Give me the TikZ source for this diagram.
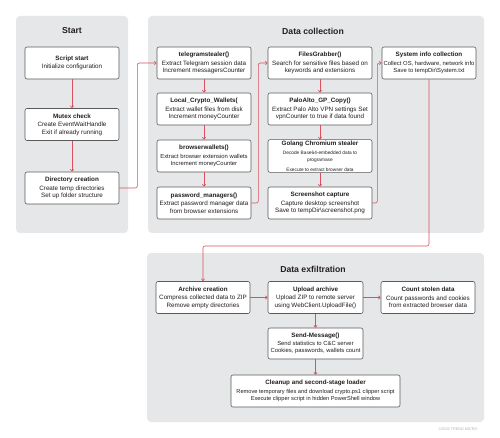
\documentclass[tikz,border=0pt]{standalone}
\usepackage{fontspec}
\setmainfont{Liberation Sans}
\usetikzlibrary{arrows.meta}
\definecolor{panelgray}{HTML}{E6E7E8}
\definecolor{boxborder}{HTML}{5A5A5A}
\definecolor{arrred}{HTML}{D9505E}
\definecolor{txt}{HTML}{231F20}
\newcommand{\bt}[1]{{\bfseries\fontsize{6.3}{7.5}\selectfont #1}}
\newcommand{\smf}{\fontsize{5.9}{7}\selectfont}
\begin{document}
\begin{tikzpicture}[x=1bp,y=-1bp,
  panel/.style={fill=panelgray, rounded corners=4bp, draw=none},
  ptitle/.style={font=\bfseries\fontsize{8.7}{10}\selectfont, text=txt},
  box/.style={draw=boxborder, fill=white, rounded corners=2bp, line width=0.6bp,
    align=center, inner sep=1bp, minimum width=94bp, minimum height=32bp,
    text=txt, font=\fontsize{6.3}{7.2}\selectfont},
  arr/.style={draw=arrred, line width=0.6bp, -{Straight Barb[length=2bp,width=3.5bp]}},
  conn/.style={arr, rounded corners=2bp}]
\useasboundingbox (0,0) rectangle (500,438);
\fill[white] (0,0) rectangle (500,438);
% panels
\fill[panel] (16,16) rectangle (128,233);
\fill[panel] (148,16) rectangle (484,233);
\fill[panel] (147,253) rectangle (484,422);
\node[ptitle] (tstart) at (72,31) {Start};
\node[ptitle] (tcoll) at (313,31) {Data collection};
\node[ptitle] (texf) at (313,269) {Data exfiltration};
% start column
\node[box] (ss) at (72,63) {\bt{Script start}\\[1.5bp] Initialize configuration};
\node[box] (mx) at (72,124.5) {\bt{Mutex check}\\[1.5bp] Create EventWaitHandle\\ Exit if already running};
\node[box] (dc) at (72,188) {\bt{Directory creation}\\[1.5bp] Create temp directories\\ Set up folder structure};
% collection column 1
\node[box] (tg) at (204,63) {\bt{telegramstealer()}\\[1.5bp] Extract Telegram session data\\ Increment messagersCounter};
\node[box] (lcw) at (204,109) {\bt{Local\_Crypto\_Wallets(}\\[1.5bp] Extract wallet files from disk\\ Increment moneyCounter};
\node[box, font=\smf] (bw) at (204,156) {\bt{browserwallets()}\\[1.5bp] Extract browser extension wallets\\ Increment moneyCounter};
\node[box] (pm) at (204,203) {\bt{password\_managers()}\\[1.5bp] Extract password manager data\\ from browser extensions};
% collection column 2
\node[box, minimum width=104bp] (fg) at (320,63) {\bt{FilesGrabber()}\\[1.5bp] Search for sensitive files based on\\ keywords and extensions};
\node[box, minimum width=104bp] (pa) at (320,109) {\bt{PaloAlto\_GP\_Copy()}\\[1.5bp] Extract Palo Alto VPN settings Set\\ vpnCounter to true if data found};
\node[box, minimum width=104bp] (go) at (320,156) {\bt{Golang Chromium stealer}\\[2bp] {\fontsize{4.8}{5}\selectfont Decode Base64-embedded data to}\\ {\fontsize{4.8}{5}\selectfont programase}\\[2.5bp] {\fontsize{4.8}{5}\selectfont Execute to extract browser data}};
\node[box, minimum width=104bp] (sc) at (320,203) {\bt{Screenshot capture}\\[1.5bp] Capture desktop screenshot\\ Save to tempDir\textbackslash screenshot.png};
% collection column 3
\node[box, font=\smf] (si) at (429,63) {\bt{System info collection}\\[1.5bp] Collect OS, hardware, network info\\ Save to tempDir\textbackslash System.txt};
% exfiltration
\node[box] (ac) at (203,297.5) {\bt{Archive creation}\\[1.5bp] Compress collected data to ZIP\\ Remove empty directories};
\node[box, minimum width=95bp] (up) at (315.5,297.5) {\bt{Upload archive}\\[1.5bp] Upload ZIP to remote server\\ using WebClient.UploadFile()};
\node[box] (cs) at (428,297.5) {\bt{Count stolen data}\\[1.5bp] Count passwords and cookies\\ from extracted browser data};
\node[box, minimum width=95bp, minimum height=31bp, font=\smf] (sm) at (315.5,343.5) {\bt{Send-Message()}\\[1.5bp] Send statistics to C\&C server\\ Cookies, passwords, wallets count};
\node[box, minimum width=169bp, font=\fontsize{5.7}{7.2}\selectfont] (cl) at (315.5,391) {\bt{Cleanup and second-stage loader}\\[1.5bp] Remove temporary files and download crypto.ps1 clipper script\\ Execute clipper script in hidden PowerShell window};
\node[anchor=east, text=gray!60, font=\fontsize{3.8}{4}\selectfont] (copy) at (481,429) {\textcopyright 2025 TREND MICRO};
% connectors
\draw[arr] (ss) -- (mx);
\draw[arr] (mx) -- (dc);
\draw[conn] (dc.east) -- ++(18,0) |- (tg.west);
\draw[arr] (tg) -- (lcw);
\draw[arr] (lcw) -- (bw);
\draw[arr] (bw) -- (pm);
\draw[conn] (pm.east) -- ++(7,0) |- (fg.west);
\draw[arr] (fg) -- (pa);
\draw[arr] (pa) -- (go);
\draw[arr] (go) -- (sc);
\draw[conn] (sc.east) -- ++(5,0) |- (si.west);
\coordinate (bend) at (429,246);
\draw[conn] (si.south) -- (bend) -| (ac.north);
\draw[arr] (ac) -- (up);
\draw[arr] (up) -- (cs);
\draw[arr] (up) -- (sm);
\draw[arr] (sm) -- (cl);
\end{tikzpicture}
\end{document}
